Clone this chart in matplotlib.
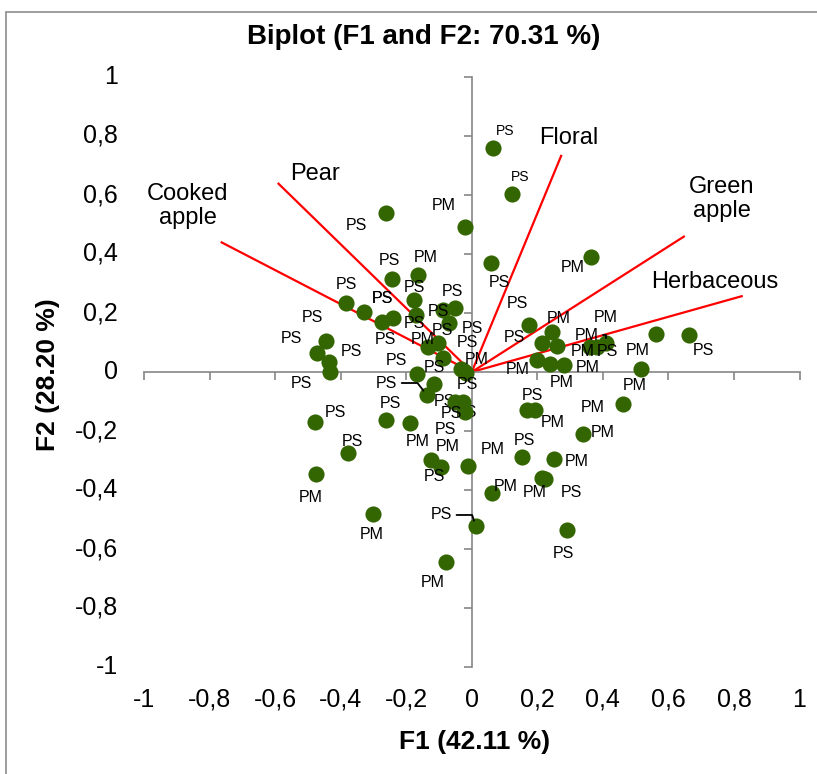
import matplotlib
matplotlib.use('Agg')
import matplotlib.pyplot as plt
import matplotlib.transforms as mtransforms
from matplotlib.patches import Rectangle

plt.rcParams['font.family'] = ['Liberation Sans', 'DejaVu Sans']

# ---------------- data ----------------
title = 'Biplot (F1 and F2: 70.31 %)'
xlabel = 'F1 (42.11 %)'
ylabel = 'F2 (28.20 %)'
tick_values = [-1, -0.8, -0.6, -0.4, -0.2, 0, 0.2, 0.4, 0.6, 0.8, 1]
tick_labels = ['-1', '-0,8', '-0,6', '-0,4', '-0,2', '0', '0,2', '0,4', '0,6', '0,8', '1']

var_names = ['Floral', 'Green\napple', 'Herbaceous', 'Pear', 'Cooked\napple']
var_f1 = [0.274, 0.650, 0.827, -0.592, -0.766]
var_f2 = [0.736, 0.461, 0.258, 0.641, 0.441]

obs_f1 = [0.064, 0.122, -0.263, -0.021, 0.058, 0.363, -0.244, -0.165, -0.385, -0.330,
          -0.275, -0.241, -0.446, -0.473, -0.437, -0.434, -0.177, -0.171, -0.089, -0.052,
          -0.070, -0.134, -0.104, -0.089, -0.024, -0.018, -0.034, -0.168, -0.116, -0.137,
          -0.052, -0.027, -0.021, -0.479, -0.263, -0.189, -0.379, -0.476, -0.125, -0.095,
          -0.012, 0.061, -0.302, 0.012, -0.079, 0.168, 0.192, 0.461, 0.339, 0.153,
          0.250, 0.214, 0.223, 0.290, 0.516, 0.174, 0.214, 0.244, 0.260, 0.198,
          0.238, 0.281, 0.409, 0.382, 0.360, 0.562, 0.663]
obs_f2 = [0.759, 0.603, 0.539, 0.492, 0.369, 0.390, 0.315, 0.329, 0.234, 0.203,
          0.169, 0.183, 0.105, 0.064, 0.034, 0.000, 0.244, 0.193, 0.210, 0.217,
          0.166, 0.085, 0.098, 0.047, 0.003, -0.003, 0.010, -0.007, -0.041, -0.078,
          -0.102, -0.102, -0.136, -0.169, -0.163, -0.173, -0.275, -0.346, -0.298, -0.322,
          -0.320, -0.410, -0.481, -0.522, -0.644, -0.129, -0.129, -0.108, -0.210, -0.288,
          -0.295, -0.359, -0.363, -0.536, 0.010, 0.159, 0.098, 0.136, 0.088, 0.041,
          0.027, 0.024, 0.098, 0.085, 0.085, 0.129, 0.125]
obs_labels = ['PS', 'PS', 'PS', 'PM', 'PS', 'PM', 'PS', 'PM', 'PS', 'PS',
              'PS', 'PS', 'PS', 'PS', 'PS', 'PS', 'PS', 'PS', 'PS', 'PS',
              'PS', 'PM', 'PS', 'PS', 'PM', 'PS', 'PS', 'PS', 'PS', 'PS',
              'PS', 'PS', 'PS', 'PS', 'PS', 'PM', 'PS', 'PM', 'PM', 'PS',
              'PM', 'PM', 'PM', 'PS', 'PM', 'PS', 'PM', 'PM', 'PM', 'PS',
              'PM', 'PM', 'PS', 'PS', 'PM', 'PS', 'PS', 'PM', 'PM', 'PM',
              'PM', 'PM', 'PM', 'PM', 'PS', 'PM', 'PS']

# ---------------- label placement (pixels, up positive) ----------------
lab_dx = [12, 8, -29, -21, 9, -18, -2, 8, 1, 19,
          4, -10, -13, -25, 23, -28, 1, -1, -4, -2,
          -6, -5, 30, -8, 13, 2, 12, -20, 11, -40,
          -3, -17, 2, 21, 5, 8, 5, -5, 17, -6,
          25, 14, -1, -34, -13, 6, 18, -30, 20, 3,
          23, -7, 27, -3, -6, -11, -27, 7, 26, -19,
          12, 24, -19, 9, 18, -18, 14]
lab_dy = [17, 17, -13, 21, -19, -11, 19, 17, 18, 14,
          -17, 20, 24, 15, 10, -12, 13, -8, -1, 16,
          -7, 7, 1, -9, 12, -12, 41, 14, -17, 12,
          -11, -27, 0, 9, 17, -18, 12, -23, 13, -10,
          17, 6, -21, 11, -21, 15, -12, -4, 1, 16,
          -2, -15, -13, -23, -16, 22, 6, 13, -5, -10,
          -18, -3, 8, 29, -5, -17, -15]
small_label_idx = [0, 1]
hidden_label_idx = [28, 32]             # labels drawn beneath the markers
leaders = {29: 128, 43: 108, 62: 90}   # point index -> arrival angle

var_dx = [7, 37, -28, 37, -33]
var_dy = [17, 37, 14, 9, 36]

W, H = 817, 774
fig = plt.figure(figsize=(W / 100, H / 100), dpi=100)
fig.patch.set_facecolor('white')

# outer frame
fig.add_artist(Rectangle((6 / W, -0.1), 1.2, 1 - 12 / H + 0.1, transform=fig.transFigure,
                         fill=False, edgecolor='#8c8c8c', lw=1.2))

ax = fig.add_axes([144 / W, 1 - 667 / H, (799.5 - 144) / W, (667 - 77) / H])
ax.set_xlim(-1, 1)
ax.set_ylim(-1, 1)
for s in ['top', 'right']:
    ax.spines[s].set_visible(False)
for s in ['left', 'bottom']:
    ax.spines[s].set_position(('data', 0))
    ax.spines[s].set_color('#868686')
    ax.spines[s].set_linewidth(1.2)
ax.set_xticks(tick_values)
ax.set_yticks(tick_values)
ax.tick_params(axis='both', direction='out', length=6, width=1.2, color='#868686',
               labelbottom=False, labelleft=False)

# tick labels at the outer edges (Excel "low" position)
bx = mtransforms.blended_transform_factory(ax.transData, ax.transAxes)
by = mtransforms.blended_transform_factory(ax.transAxes, ax.transData)
for v, l in zip(tick_values, tick_labels):
    ax.annotate(l, (v, 0), xycoords=bx, xytext=(0, -33), textcoords='offset pixels',
                ha='center', va='center', fontsize=18, annotation_clip=False)
    ax.annotate(l, (0, v), xycoords=by, xytext=(-26, 0), textcoords='offset pixels',
                ha='right', va='center', fontsize=18, annotation_clip=False)

# variable vectors
for n, x, y, dx, dy in zip(var_names, var_f1, var_f2, var_dx, var_dy):
    ax.plot([0, x], [0, y], color='#ff0000', lw=1.6, zorder=2, solid_capstyle='butt')
    ax.annotate(n, (x, y), xytext=(dx, dy), textcoords='offset pixels', ha='center',
                va='center', fontsize=17, annotation_clip=False, linespacing=1.15)

# observations
ax.scatter(obs_f1, obs_f2, s=135, color='#336600', linewidths=0, zorder=3)
for i, (x, y, l) in enumerate(zip(obs_f1, obs_f2, obs_labels)):
    fs = 10 if i in small_label_idx else 11.5
    z = 2.9 if i in hidden_label_idx else 4
    kw = {}
    if i in leaders:
        kw['arrowprops'] = dict(arrowstyle='-', color='black', lw=1.3, shrinkA=1, shrinkB=4,
                                relpos=(1, 0.5),
                                connectionstyle=f"angle,angleA=0,angleB={leaders[i]},rad=0")
    ax.annotate(l, (x, y), xytext=(lab_dx[i], lab_dy[i]), textcoords='offset pixels',
                ha='center', va='center', fontsize=fs, zorder=z, annotation_clip=False, **kw)

fig.text(424 / W, 1 - 37 / H, title, ha='center', va='center', fontsize=20, fontweight='bold')
fig.text(475 / W, 1 - 742 / H, xlabel, ha='center', va='center', fontsize=19, fontweight='bold')
fig.text(48 / W, 1 - 375 / H, ylabel, ha='center', va='center', fontsize=19,
         fontweight='bold', rotation=90)

fig.savefig('out.png', dpi=100)
